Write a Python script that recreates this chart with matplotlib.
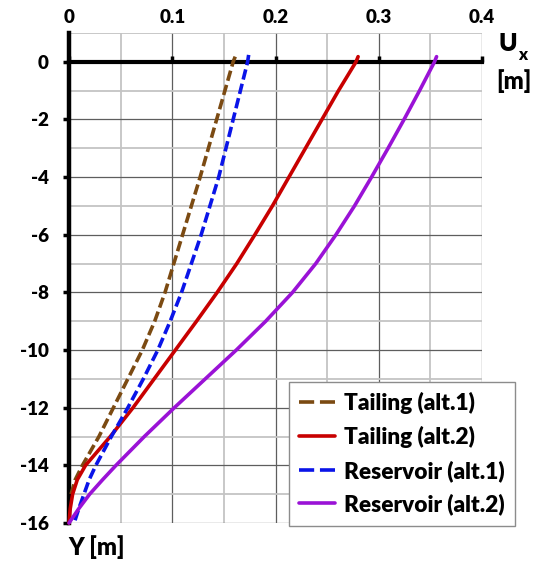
import matplotlib
matplotlib.use("Agg")
import matplotlib.pyplot as plt
from matplotlib.ticker import MultipleLocator, FixedLocator
from matplotlib.lines import Line2D

FONT = ['Lato', 'DejaVu Sans']
WEIGHT = 800
plt.rcParams['font.family'] = FONT
plt.rcParams['font.weight'] = WEIGHT
plt.rcParams['axes.unicode_minus'] = False

# ---- data (Ux [m] vs depth Y [m]) ----
tail1_y = [0.18, 0, -2, -4, -6, -8, -9, -10, -11, -12, -13, -13.5, -14, -14.5, -15]
tail1_x = [0.161, 0.159, 0.143, 0.127, 0.110, 0.093, 0.083, 0.071, 0.057, 0.043, 0.029, 0.021, 0.013, 0.006, 0.002]

tail2_y = [0.18, 0, -1, -2, -3, -4, -5, -6, -7, -8, -9, -10, -11, -12, -13, -13.5, -14, -14.5, -15, -15.5, -16]
tail2_x = [0.280, 0.278, 0.261, 0.245, 0.229, 0.213, 0.197, 0.180, 0.1625, 0.1435, 0.1235, 0.103, 0.0825,
           0.062, 0.040, 0.028, 0.016, 0.008, 0.0035, 0.0012, 0.0]

res1_y = [0.24, 0, -2, -4, -6, -8, -9, -10, -11, -12, -13, -14, -14.5, -15, -15.5, -16]
res1_x = [0.174, 0.173, 0.159, 0.145, 0.128, 0.109, 0.098, 0.086, 0.072, 0.057, 0.041, 0.026, 0.0195,
          0.0145, 0.0095, 0.005]

res2_y = [0.18, 0, -1, -2, -3, -4, -5, -6, -7, -8, -9, -10, -11, -12, -13, -14, -14.5, -15, -15.5, -16]
res2_x = [0.356, 0.354, 0.3395, 0.3245, 0.309, 0.293, 0.2765, 0.2585, 0.239, 0.2165, 0.1905, 0.162, 0.132,
          0.102, 0.073, 0.0455, 0.0325, 0.020, 0.0095, 0.0]

labels = ['Tailing (alt.1)', 'Tailing (alt.2)', 'Reservoir (alt.1)', 'Reservoir (alt.2)']
x_ticks = [0, 0.1, 0.2, 0.3, 0.4]
x_tick_labels = ['0', '0.1', '0.2', '0.3', '0.4']
y_ticks = [0, -2, -4, -6, -8, -10, -12, -14, -16]

colors = ['#7B4A12', '#C80000', '#0A14E8', '#9A12D6']

fig = plt.figure(figsize=(5.33, 5.63), dpi=100)
ax = fig.add_axes([69/533, 1 - 523/563, (482-69)/533, (523-33)/563])

series = [(tail1_x, tail1_y, True), (tail2_x, tail2_y, False),
          (res1_x, res1_y, True), (res2_x, res2_y, False)]
lw = 2.6
for (xs, ys, dashed), c in zip(series, colors):
    if dashed:
        ax.plot(xs, ys, color=c, lw=lw, dashes=(2.9, 1.2), dash_capstyle='butt',
                zorder=4, clip_on=False)
    else:
        ax.plot(xs, ys, color=c, lw=lw, solid_capstyle='round', solid_joinstyle='round',
                zorder=4, clip_on=False)

ax.set_xlim(0, 0.4)
ax.set_ylim(-16, 1)

ax.xaxis.set_major_locator(FixedLocator(x_ticks))
ax.set_xticklabels(x_tick_labels)
ax.yaxis.set_major_locator(FixedLocator(y_ticks))
ax.set_yticklabels([str(v) for v in y_ticks])
ax.xaxis.set_minor_locator(MultipleLocator(0.05))
ax.yaxis.set_minor_locator(MultipleLocator(1))

ax.grid(True, which='major', color='#5E5E5E', lw=0.9, zorder=1)
ax.grid(True, which='minor', color='#C4C4C4', lw=1.3, zorder=0.9)
ax.set_axisbelow(True)

for s in ['top', 'right']:
    ax.spines[s].set_visible(False)
ax.spines['bottom'].set_position(('data', 0))
ax.spines['bottom'].set_linewidth(3.0)
ax.spines['left'].set_linewidth(3.2)
ax.spines['bottom'].set_zorder(3)
ax.spines['left'].set_zorder(3)

ax.tick_params(axis='x', which='major', bottom=True, top=False, labelbottom=False,
               labeltop=True, direction='in', length=4.5, width=2.5, pad=5,
               labelsize=13.5, color='black')
ax.tick_params(axis='y', which='major', left=True, direction='out', length=4.5,
               width=2.5, pad=10, labelsize=13.5)
ax.tick_params(which='minor', length=0)
for lab in ax.get_xticklabels() + ax.get_yticklabels():
    lab.set_fontweight(WEIGHT)

# axis labels
fig.text(508/533, 1 - 44/563, 'U', fontsize=18, fontweight=WEIGHT, ha='center', va='center')
fig.text(523/533, 1 - 55/563, 'x', fontsize=12, fontweight=WEIGHT, ha='center', va='center')
fig.text(514/533, 1 - 81/563, '[m]', fontsize=17, fontweight=WEIGHT, ha='center', va='center')
fig.text(68/533, 1 - 547/563, 'Y [m]', fontsize=17, fontweight=WEIGHT, ha='left', va='center')

handles = [
    Line2D([], [], color=colors[0], lw=lw, dashes=(4.2, 1.6), dash_capstyle='butt'),
    Line2D([], [], color=colors[1], lw=lw, solid_capstyle='round'),
    Line2D([], [], color=colors[2], lw=lw, dashes=(4.2, 1.6), dash_capstyle='butt'),
    Line2D([], [], color=colors[3], lw=lw, solid_capstyle='round'),
]
leg = fig.legend(handles, labels, loc='upper left', bbox_to_anchor=(289/533, 1 - 382/563),
                 borderaxespad=0, fancybox=False, edgecolor='#8C8C8C', framealpha=1,
                 prop={'family': FONT, 'weight': WEIGHT, 'size': 16.3},
                 handlelength=1.6, handletextpad=0.38, labelspacing=0.52,
                 borderpad=0.45)
leg.get_frame().set_linewidth(1.0)

fig.savefig('out.png', dpi=100)
